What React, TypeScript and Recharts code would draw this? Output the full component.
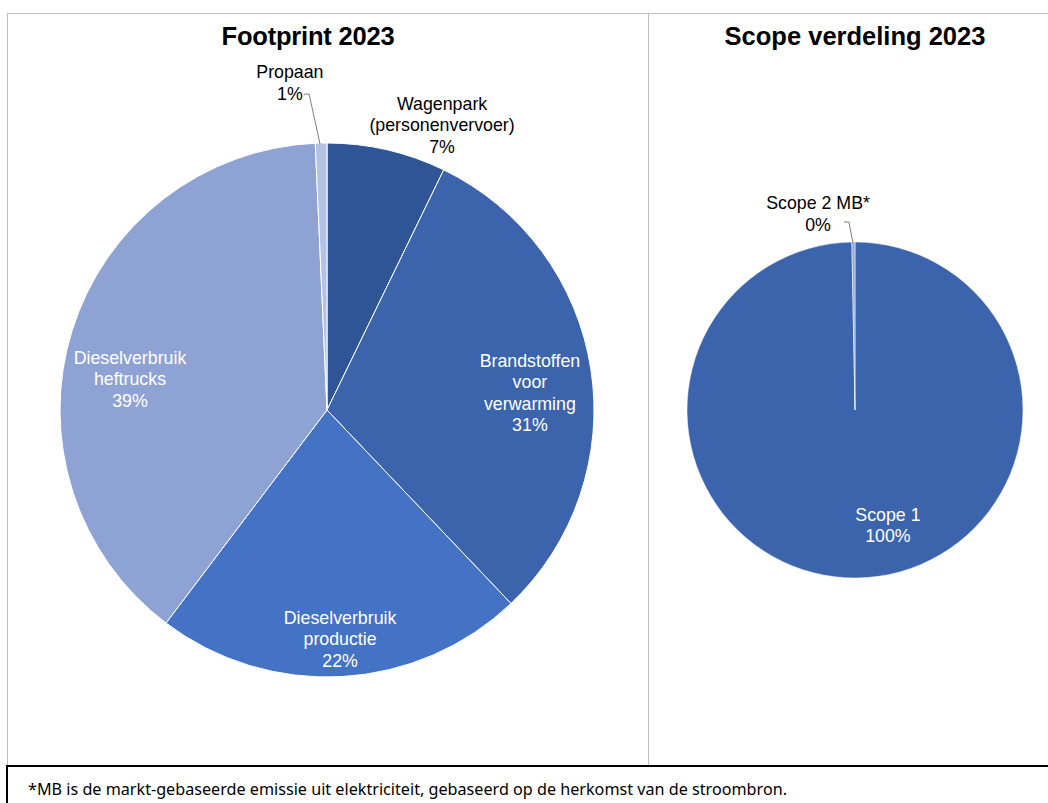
import { Cell, Pie, PieChart } from 'recharts';

// ─── Data ───────────────────────────────────────────────────

const FOOTPRINT_CATEGORIES = [
  'Wagenpark\n(personenvervoer)',
  'Brandstoffen\nvoor\nverwarming',
  'Dieselverbruik\nproductie',
  'Dieselverbruik\nheftrucks',
  'Propaan',
];
const FOOTPRINT_SHARES = [7.2, 30.7, 22.4, 39.0, 0.7];

const SCOPE_CATEGORIES = ['Scope 1', 'Scope 2 MB*'];
const SCOPE_SHARES = [99.7, 0.3];

// ─── Styling ────────────────────────────────────────────────

const FOOTPRINT_COLORS = ['#2F5597', '#3C64AD', '#4472C4', '#8FA2D4', '#B4C2E6'];
const SCOPE_COLORS = ['#3C64AD', '#97A9D8'];
const FONT = '"Liberation Sans", Arial, sans-serif';
const PANEL_BORDER = '#BFBFBF';

type LabelPos = { dx: number; dy: number; color: string; leader?: [number, number][] };

// label centres relative to the pie centre, in units of the outer radius
const FOOTPRINT_LABELS: LabelPos[] = [
  { dx: 0.431, dy: -1.067, color: '#000' },
  { dx: 0.76, dy: -0.064, color: '#fff' },
  { dx: 0.049, dy: 0.858, color: '#fff' },
  { dx: -0.738, dy: -0.116, color: '#fff' },
  {
    dx: -0.139,
    dy: -1.225,
    color: '#000',
    leader: [
      [-0.086, -1.183],
      [-0.067, -1.183],
      [-0.026, -0.996],
    ],
  },
];

const SCOPE_LABELS: LabelPos[] = [
  { dx: 0.196, dy: 0.685, color: '#fff' },
  {
    dx: -0.22,
    dy: -1.167,
    color: '#000',
    leader: [
      [-0.065, -1.119],
      [-0.036, -1.119],
      [-0.012, -0.994],
    ],
  },
];

function makeLabel(names: string[], layout: LabelPos[]) {
  return (props: any) => {
    const { cx, cy, outerRadius, index, percent } = props;
    const l = layout[index];
    if (!l) return null;
    const x = cx + l.dx * outerRadius;
    const y = cy + l.dy * outerRadius;
    const lines = [...names[index].split('\n'), `${Math.round(percent * 100)}%`];
    const lh = 21.5;
    const y0 = y - ((lines.length - 1) * lh) / 2;
    return (
      <g key={`lbl-${index}`}>
        {l.leader && (
          <polyline
            points={l.leader.map(([a, b]) => `${cx + a * outerRadius},${cy + b * outerRadius}`).join(' ')}
            fill="none"
            stroke="#7F7F7F"
            strokeWidth={1}
          />
        )}
        <text textAnchor="middle" fill={l.color} fontSize={17.8} fontFamily={FONT}>
          {lines.map((t, i) => (
            <tspan key={i} x={x} y={y0 + i * lh + 6.3}>
              {t}
            </tspan>
          ))}
        </text>
      </g>
    );
  };
}

const footprintData = FOOTPRINT_CATEGORIES.map((name, i) => ({ name, value: FOOTPRINT_SHARES[i] }));
const scopeData = SCOPE_CATEGORIES.map((name, i) => ({ name, value: SCOPE_SHARES[i] }));

const NO_MARGIN = { top: 0, right: 0, bottom: 0, left: 0 };

export default function App() {
  return (
    <div style={{ position: 'absolute', left: 0, top: 0, width: 1048, height: 803, overflow: 'hidden', background: '#fff' }}>
      {/* left panel */}
      <div
        style={{
          position: 'absolute',
          left: 7,
          top: 13,
          width: 642,
          height: 753,
          boxSizing: 'border-box',
          borderLeft: `1px solid ${PANEL_BORDER}`,
          borderTop: `1px solid ${PANEL_BORDER}`,
          borderRight: `1px solid ${PANEL_BORDER}`,
        }}
      />
      {/* right panel */}
      <div
        style={{
          position: 'absolute',
          left: 648,
          top: 13,
          width: 420,
          height: 753,
          boxSizing: 'border-box',
          borderTop: `1px solid ${PANEL_BORDER}`,
        }}
      />

      <div
        style={{
          position: 'absolute',
          left: 158,
          top: 22,
          width: 300,
          textAlign: 'center',
          fontFamily: FONT,
          fontWeight: 'bold',
          fontSize: 25.5,
          letterSpacing: -0.2,
          color: '#000',
        }}
      >
        Footprint 2023
      </div>
      <div
        style={{
          position: 'absolute',
          left: 705,
          top: 22,
          width: 300,
          textAlign: 'center',
          fontFamily: FONT,
          fontWeight: 'bold',
          fontSize: 25.5,
          color: '#000',
        }}
      >
        Scope verdeling 2023
      </div>

      <div style={{ position: 'absolute', left: 7, top: 13 }}>
        <PieChart width={641} height={753} margin={NO_MARGIN}>
          <Pie
            data={footprintData}
            dataKey="value"
            nameKey="name"
            cx={320}
            cy={397}
            outerRadius={267}
            startAngle={90}
            endAngle={-270}
            stroke="#fff"
            strokeWidth={1}
            labelLine={false}
            label={makeLabel(FOOTPRINT_CATEGORIES, FOOTPRINT_LABELS)}
            isAnimationActive={false}
          >
            {footprintData.map((d, i) => (
              <Cell key={d.name} fill={FOOTPRINT_COLORS[i]} />
            ))}
          </Pie>
        </PieChart>
      </div>

      <div style={{ position: 'absolute', left: 648, top: 13 }}>
        <PieChart width={400} height={753} margin={NO_MARGIN}>
          <Pie
            data={scopeData}
            dataKey="value"
            nameKey="name"
            cx={207}
            cy={397}
            outerRadius={168}
            startAngle={90}
            endAngle={-270}
            stroke="#fff"
            strokeWidth={0.5}
            labelLine={false}
            label={makeLabel(SCOPE_CATEGORIES, SCOPE_LABELS)}
            isAnimationActive={false}
          >
            {scopeData.map((d, i) => (
              <Cell key={d.name} fill={SCOPE_COLORS[i]} />
            ))}
          </Pie>
        </PieChart>
      </div>

      {/* footnote */}
      <div
        style={{
          position: 'absolute',
          left: 6,
          top: 765,
          width: 1060,
          height: 60,
          boxSizing: 'border-box',
          border: '2px solid #000',
        }}
      />
      <svg style={{ position: 'absolute', left: 0, top: 765 }} width={1048} height={38}>
        <text
          x={28}
          y={30}
          fontFamily='"Noto Sans", "Open Sans", sans-serif'
          fontSize={16.5}
          textLength={759}
          lengthAdjust="spacingAndGlyphs"
          fill="#000"
        >
          *MB is de markt-gebaseerde emissie uit elektriciteit, gebaseerd op de herkomst van de stroombron.
        </text>
      </svg>
    </div>
  );
}
